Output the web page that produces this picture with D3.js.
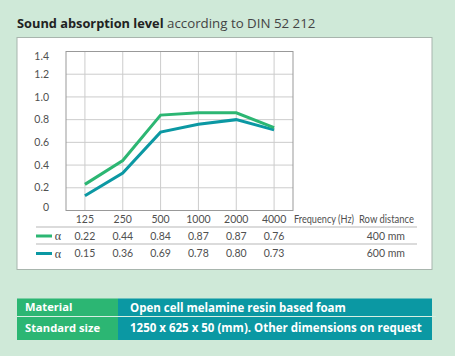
<!DOCTYPE html>
<html><head><meta charset="utf-8">
<script src="https://cdn.jsdelivr.net/npm/d3@7"></script>
<style>
html,body{margin:0;padding:0;background:#cfe9d8;}
svg{display:block;font-family:"Open Sans",sans-serif;}
.lbl{font-family:Lato,sans-serif;font-size:10.5px;fill:#505050;}
</style></head>
<body>
<script>
const frequencies = ["125","250","500","1000","2000","4000"];
const yTicks = [0,0.2,0.4,0.6,0.8,1.0,1.2,1.4];
const yTickLabels = ["0","0.2","0.4","0.6","0.8","1.0","1.2","1.4"];
// plotted curves
const line400 = [0.23,0.44,0.84,0.86,0.86,0.73];
const line600 = [0.13,0.33,0.69,0.76,0.80,0.71];
// table values as printed
const table400 = ["0.22","0.44","0.84","0.87","0.87","0.76"];
const table600 = ["0.15","0.36","0.69","0.78","0.80","0.73"];
const rowDistances = ["400 mm","600 mm"];
const specLabels = ["Material","Standard size"];
const specValues = ["Open cell melamine resin based foam","1250 x 625 x 50 (mm). Other dimensions on request"];

const W=455,H=356;
const green="#2cb673", teal="#0b98a3";
const svg=d3.select("body").append("svg").attr("width",W).attr("height",H);
svg.append("rect").attr("width",W).attr("height",H).attr("fill","#cfe9d8");

// title
const title=svg.append("text").attr("x",17).attr("y",28).attr("fill","#222");
title.append("tspan").attr("font-weight","bold").attr("font-size",12.8).text("Sound absorption level");
title.append("tspan").attr("fill","#444").attr("font-size",13.3).text(" according to DIN 52 212");

// white panel
svg.append("rect").attr("x",17).attr("y",37.5).attr("width",415).attr("height",232)
  .attr("fill","#fff").attr("stroke","#a8b5ad").attr("stroke-width",1);

const L=66,R=293,T=51.5,B=210.5;
const x=d3.scalePoint().domain(frequencies).range([L,R]).padding(0.5);
const y=d3.scaleLinear().domain([0,1.4]).range([B,T]);

const g=svg.append("g");
// grid
g.selectAll(".hg").data(yTicks).join("line")
  .attr("x1",L).attr("x2",R).attr("y1",d=>y(d)).attr("y2",d=>y(d))
  .attr("stroke","#cccccc").attr("stroke-width",1);
g.selectAll(".vg").data(frequencies).join("line")
  .attr("x1",d=>x(d)).attr("x2",d=>x(d)).attr("y1",T).attr("y2",B)
  .attr("stroke","#cccccc").attr("stroke-width",1);
g.append("rect").attr("x",L).attr("y",T).attr("width",R-L).attr("height",B-T)
  .attr("fill","none").attr("stroke","#999").attr("stroke-width",1);

// y labels
g.selectAll(".yl").data(yTicks).join("text").attr("class","lbl")
  .attr("x",49).attr("text-anchor","end")
  .attr("y",d=>Math.max(T+5, Math.min(B-3, y(d))))
  .attr("dy","0.35em")
  .text((d,i)=>yTickLabels[i]);

// lines
const lineGen=d3.line().x((d,i)=>x(frequencies[i])).y(d=>y(d));
g.append("path").datum(line600).attr("d",lineGen).attr("fill","none")
  .attr("stroke",teal).attr("stroke-width",3);
g.append("path").datum(line400).attr("d",lineGen).attr("fill","none")
  .attr("stroke",green).attr("stroke-width",3);

// x labels
g.selectAll(".xl").data(frequencies).join("text").attr("class","lbl")
  .attr("x",d=>x(d)).attr("y",219).attr("dy","0.35em").attr("text-anchor","middle")
  .text(d=>d);
g.append("text").attr("class","lbl").attr("x",294).attr("y",219).attr("dy","0.35em")
  .attr("textLength",60).attr("lengthAdjust","spacingAndGlyphs")
  .text("Frequency (Hz)");
g.append("text").attr("class","lbl").attr("x",359).attr("y",219).attr("dy","0.35em")
  .attr("textLength",55).attr("lengthAdjust","spacingAndGlyphs")
  .text("Row distance");

// table separators
[227,244].forEach(yy=>{
  g.append("line").attr("x1",36).attr("x2",417).attr("y1",yy).attr("y2",yy)
   .attr("stroke","#cfcfcf").attr("stroke-width",1.5);
});

const rows=[{vals:table400,color:green,yy:236,dist:rowDistances[0]},
            {vals:table600,color:teal,yy:253.5,dist:rowDistances[1]}];
rows.forEach(r=>{
  g.append("line").attr("x1",36).attr("x2",52).attr("y1",r.yy).attr("y2",r.yy)
   .attr("stroke",r.color).attr("stroke-width",3);
  g.append("text").attr("x",58).attr("y",r.yy).attr("dy","0.35em").attr("text-anchor","middle")
   .attr("font-family","'Liberation Serif',serif").attr("font-size",12).attr("fill","#444").text("α");
  g.selectAll(null).data(r.vals).join("text").attr("class","lbl")
   .attr("x",(d,i)=>x(frequencies[i])).attr("y",r.yy).attr("dy","0.35em").attr("text-anchor","middle")
   .text(d=>d);
  g.append("text").attr("class","lbl").attr("x",405).attr("y",r.yy).attr("dy","0.35em").attr("text-anchor","end")
   .text(r.dist);
});

// spec table
const tx0=17, tx1=118, tx2=432, ty0=298.5, ty1=316.5, ty2=340;
svg.append("rect").attr("x",tx0).attr("y",ty0).attr("width",tx1-tx0).attr("height",ty2-ty0).attr("fill",green);
svg.append("rect").attr("x",tx1).attr("y",ty0).attr("width",tx2-tx1).attr("height",ty2-ty0).attr("fill",teal);
svg.append("line").attr("x1",tx0).attr("x2",436).attr("y1",ty1).attr("y2",ty1)
  .attr("stroke","#d8efe3").attr("stroke-width",1);
const rowsY=[(ty0+ty1)/2,(ty1+ty2)/2];
specLabels.forEach((s,i)=>{
  svg.append("text").attr("x",25).attr("y",rowsY[i]).attr("dy","0.35em")
   .attr("font-size",11.2).attr("font-weight","bold").attr("fill","#fff").text(s);
  svg.append("text").attr("x",130).attr("y",rowsY[i]).attr("dy","0.35em")
   .attr("font-size",11.5).attr("font-weight","bold").attr("fill","#fff").text(specValues[i]);
});
</script>
</body></html>
